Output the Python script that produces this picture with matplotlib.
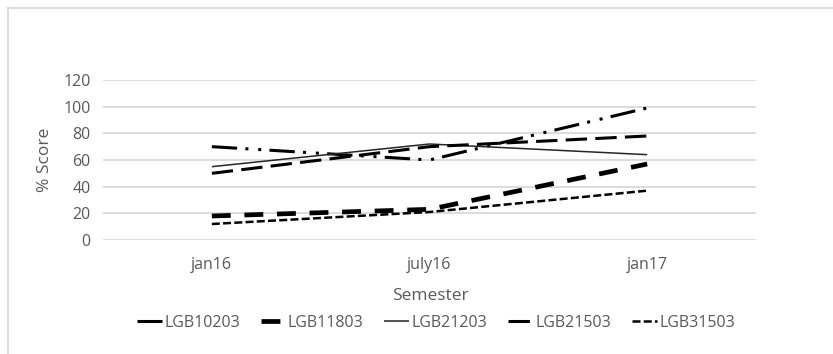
import matplotlib
matplotlib.use("Agg")
import matplotlib.pyplot as plt
from matplotlib.lines import Line2D

plt.rcParams['font.family'] = ['Open Sans', 'DejaVu Sans']

semesters = ["jan16", "july16", "jan17"]
LGB10203 = [70, 60, 99]
LGB11803 = [18, 23, 57]
LGB21203 = [55, 72, 64]
LGB21503 = [50, 70, 78]
LGB31503 = [12, 21, 37]
yticks = [0, 20, 40, 60, 80, 100, 120]

W, H = 833, 354
fig = plt.figure(figsize=(W / 100, H / 100), dpi=100)
ax = fig.add_axes([103 / W, 1 - 240 / H, (756 - 103) / W, (240 - 80) / H])

txt = '#595959'
x = list(range(len(semesters)))

styles = [
    ("LGB10203", LGB10203, dict(color='black', lw=2.2, dashes=(8.3, 2.7, 1, 3.2, 1, 2.7), dash_capstyle='butt')),
    ("LGB11803", LGB11803, dict(color='black', lw=3.4, dashes=(4.0, 2.9), dash_capstyle='butt')),
    ("LGB21203", LGB21203, dict(color='#262626', lw=1.1, ls='-')),
    ("LGB21503", LGB21503, dict(color='black', lw=2.2, dashes=(7.0, 2.7), dash_capstyle='butt')),
    ("LGB31503", LGB31503, dict(color='black', lw=1.8, dashes=(3.2, 1.3), dash_capstyle='butt')),
]
for name, vals, kw in styles:
    ax.plot(x, vals, label=name, solid_capstyle='butt', **kw)

ax.set_xlim(-0.5, 2.5)
ax.set_ylim(0, 120)
ax.set_yticks(yticks)
ax.set_xticks(x)
ax.set_xticklabels(semesters)
ax.yaxis.grid(True, color='#d9d9d9', lw=1.3)
ax.set_axisbelow(True)
for s in ax.spines.values():
    s.set_visible(False)
ax.tick_params(axis='both', length=0, labelsize=11.5, labelcolor=txt)
ax.tick_params(axis='y', pad=9)
ax.tick_params(axis='x', pad=12)

fig.text(45 / W, 1 - 160 / H, "% Score", rotation=90, ha='center', va='center',
         fontsize=12.5, color=txt)
fig.text(430 / W, 1 - 296 / H, "Semester", ha='center', va='center',
         fontsize=12.5, color=txt)

leg = fig.legend(loc='center', bbox_to_anchor=(436 / W, 1 - 323 / H), ncol=5,
                 frameon=False, fontsize=11.5, handlelength=1.56, handletextpad=0.15,
                 columnspacing=1.3, borderpad=0, borderaxespad=0)
for t in leg.get_texts():
    t.set_color(txt)

# chart border
fig.add_artist(Line2D([7.5 / W, 7.5 / W], [0, 1 - 7.5 / H], transform=fig.transFigure,
                      color='#d9d9d9', lw=1.3))
fig.add_artist(Line2D([7.5 / W, 1], [1 - 7.5 / H, 1 - 7.5 / H], transform=fig.transFigure,
                      color='#d9d9d9', lw=1.3))

fig.savefig("out.png", dpi=100)
